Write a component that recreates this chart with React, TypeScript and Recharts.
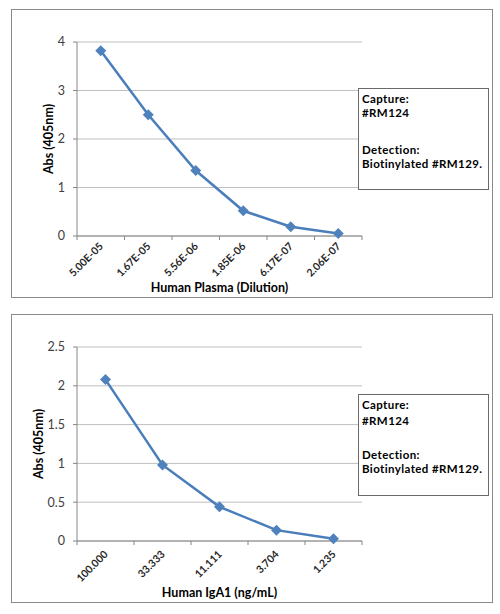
import React from "react";
import { LineChart, Line, XAxis, YAxis, CartesianGrid } from "recharts";

const plasmaDilutions = ["5.00E-05", "1.67E-05", "5.56E-06", "1.85E-06", "6.17E-07", "2.06E-07"];
const plasmaAbs = [3.82, 2.5, 1.35, 0.52, 0.19, 0.05];
const plasmaTicks = [0, 1, 2, 3, 4];

const igaConc = ["100.000", "33.333", "11.111", "3.704", "1.235"];
const igaAbs = [2.08, 0.98, 0.44, 0.14, 0.03];
const igaTicks = [0, 0.5, 1, 1.5, 2, 2.5];

const boxLines = ["Capture:", "#RM124", "Detection:", "Biotinylated #RM129."];

const FONT = "Lato, 'Open Sans', sans-serif";
const LINE_COLOR = "#4A7EBB";
const MARK_COLOR = "#4F81BD";

const CHART_W = 482;
const CHART_H = 289;
const Y_W = 66;
const MARGIN = { top: 33, right: 131, left: 0, bottom: 0 };
const X_H = 62;
const PLOT_W = CHART_W - MARGIN.left - MARGIN.right - Y_W;

const Diamond = (props: any) => {
  const { cx, cy } = props;
  if (cx == null || cy == null) return null;
  const r = 5.5;
  return (
    <polygon
      points={`${cx},${cy - r} ${cx + r},${cy} ${cx},${cy + r} ${cx - r},${cy}`}
      fill={MARK_COLOR}
    />
  );
};

const makeTick = (n: number, dx: number, dy: number) => (props: any) => {
  const { x, y, payload, index } = props;
  const bw = PLOT_W / n;
  const axisY = y - 5;
  return (
    <g>
      <line x1={x - bw / 2} x2={x - bw / 2} y1={axisY} y2={axisY + 4} stroke="#868686" />
      {index === n - 1 && (
        <line x1={x + bw / 2} x2={x + bw / 2} y1={axisY} y2={axisY + 4} stroke="#868686" />
      )}
      <text
        x={x + dx}
        y={y + dy}
        textAnchor="end"
        transform={`rotate(-45, ${x + dx}, ${y + dy})`}
        fontFamily={FONT}
        fontSize={10.5}
        fontWeight="bold"
        fill="#262626"
      >
        {payload.value}
      </text>
    </g>
  );
};

type ChartProps = {
  cats: string[];
  vals: number[];
  ticks: number[];
  xTitle: string;
  top: number;
  tickDx: number;
  tickDy: number;
  yTitleX: number;
};

const Chart = ({ cats, vals, ticks, xTitle, top, tickDx, tickDy, yTitleX }: ChartProps) => {
  const data = cats.map((c, i) => ({ cat: c, v: vals[i] }));
  const n = cats.length;
  const half = PLOT_W / n / 2;
  return (
    <>
      <div style={{ position: "absolute", left: 11, top, width: CHART_W, height: CHART_H }}>
        <LineChart width={CHART_W} height={CHART_H} data={data} margin={MARGIN}>
          <CartesianGrid vertical={false} stroke="#bfbfbf" />
          <XAxis
            dataKey="cat"
            height={X_H}
            interval={0}
            padding={{ left: half, right: half }}
            stroke="#868686"
            tickLine={false}
            tickSize={5}
            tickMargin={0}
            tick={makeTick(n, tickDx, tickDy)}
            label={{
              content: (p: any) => {
                const vb = p.viewBox;
                return (
                  <text
                    x={vb.x + vb.width / 2}
                    y={vb.y + vb.height - 6}
                    textAnchor="middle"
                    fontFamily={FONT}
                    fontSize={12.5}
                    fontWeight="bold"
                    fill="#000"
                  >
                    {xTitle}
                  </text>
                );
              },
            }}
          />
          <YAxis
            width={Y_W}
            domain={[ticks[0], ticks[ticks.length - 1]]}
            ticks={ticks}
            stroke="#868686"
            tickSize={4}
            tickMargin={8}
            tick={{ fontFamily: FONT, fontSize: 12.5, fill: "#404040" }}
            label={{
              content: (p: any) => {
                const vb = p.viewBox;
                const lx = vb.x + yTitleX;
                const ly = vb.y + vb.height / 2;
                return (
                  <text
                    x={lx}
                    y={ly}
                    textAnchor="middle"
                    dominantBaseline="central"
                    transform={`rotate(-90, ${lx}, ${ly})`}
                    fontFamily={FONT}
                    fontSize={12.5}
                    fontWeight="bold"
                    fill="#000"
                  >
                    Abs (405nm)
                  </text>
                );
              },
            }}
          />
          <Line
            type="linear"
            dataKey="v"
            stroke={LINE_COLOR}
            strokeWidth={2.5}
            dot={<Diamond />}
            activeDot={false}
            isAnimationActive={false}
          />
        </LineChart>
      </div>
      <div
        style={{
          position: "absolute",
          left: 11,
          top,
          width: CHART_W,
          height: CHART_H,
          boxSizing: "border-box",
          border: "1px solid #8a8a8a",
          pointerEvents: "none",
        }}
      />
    </>
  );
};

const TextBox = ({ top, lineYs }: { top: number; lineYs: number[] }) => (
  <div
    style={{
      position: "absolute",
      left: 358,
      top,
      width: 131,
      height: 102,
      boxSizing: "border-box",
      border: "1px solid #6a6a6a",
      background: "#fff",
      fontFamily: FONT,
      fontSize: 11.5,
      letterSpacing: "0.4px",
      fontWeight: "bold",
      color: "#000",
    }}
  >
    {boxLines.map((t, i) => (
      <div
        key={i}
        style={{ position: "absolute", left: 3, top: lineYs[i] - 7, lineHeight: "14px", whiteSpace: "nowrap" }}
      >
        {t}
      </div>
    ))}
  </div>
);

export default function App() {
  return (
    <div style={{ position: "absolute", left: 0, top: 0, width: 500, height: 614, background: "#fff" }}>
      <Chart
        cats={plasmaDilutions}
        vals={plasmaAbs}
        ticks={plasmaTicks}
        xTitle="Human Plasma (Dilution)"
        top={9}
        tickDx={3}
        tickDy={6}
        yTitleX={37}
      />
      <TextBox top={88} lineYs={[9.5, 23.5, 60.5, 74.5]} />
      <Chart
        cats={igaConc}
        vals={igaAbs}
        ticks={igaTicks}
        xTitle="Human IgA1 (ng/mL)"
        top={314}
        tickDx={3}
        tickDy={9}
        yTitleX={27}
      />
      <TextBox top={394} lineYs={[10, 26, 59.5, 73.5]} />
    </div>
  );
}
